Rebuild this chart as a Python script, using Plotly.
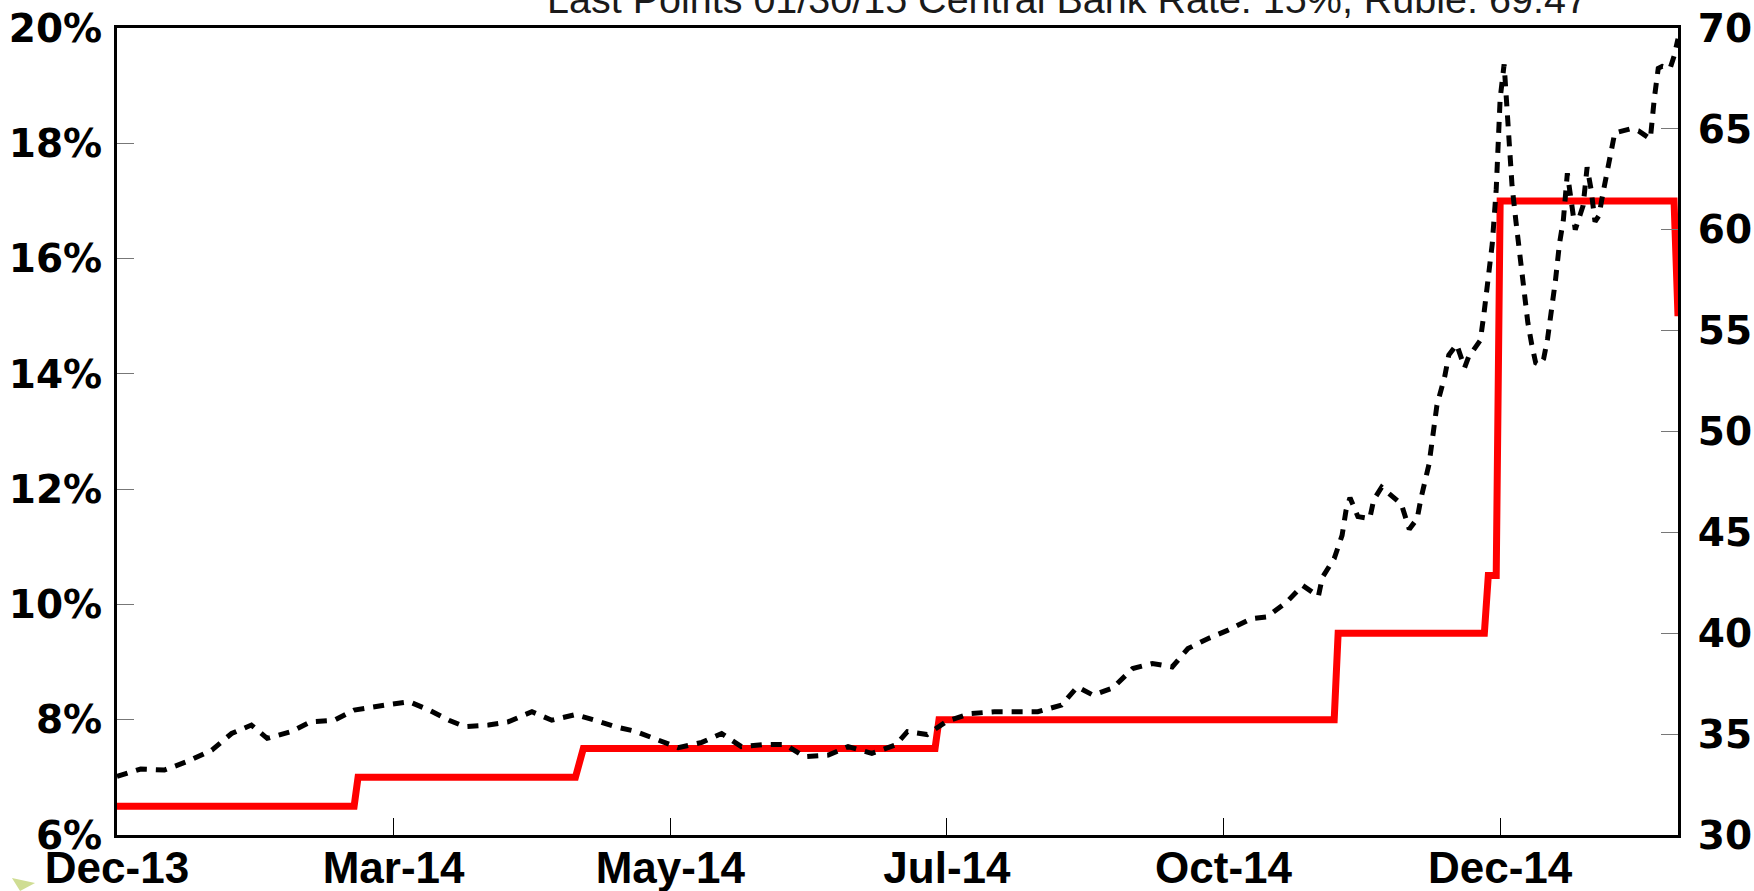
import plotly.graph_objects as go

# ---- data ----
TITLE_TEXT = "Last Points 01/30/15 Central Bank Rate: 15%, Ruble: 69.47"

TICK_DATES = ["2013-12-31", "2014-03-11", "2014-05-20", "2014-07-29", "2014-10-07", "2014-12-16"]
TICK_LABELS = ["Dec-13", "Mar-14", "May-14", "Jul-14", "Oct-14", "Dec-14"]

RATE_TICKS = [6, 8, 10, 12, 14, 16, 18, 20]
RATE_TICK_LABELS = ["6%", "8%", "10%", "12%", "14%", "16%", "18%", "20%"]
RUBLE_TICKS = [30, 35, 40, 45, 50, 55, 60, 65, 70]

RATE_DATES = ["2013-12-31", "2014-03-01", "2014-03-02", "2014-04-26", "2014-04-28",
              "2014-07-26", "2014-07-27", "2014-11-04", "2014-11-05", "2014-12-12",
              "2014-12-13", "2014-12-15", "2014-12-16", "2015-01-29", "2015-01-30"]
RATE_VALUES = [6.5, 6.5, 7.0, 7.0, 7.5, 7.5, 8.0, 8.0, 9.5, 9.5, 10.5, 10.5, 17.0, 17.0, 15.0]

RUBLE_DATES = [
    "2013-12-31", "2014-01-06", "2014-01-12", "2014-01-18", "2014-01-24", "2014-01-29",
    "2014-02-03", "2014-02-07", "2014-02-13", "2014-02-18", "2014-02-24", "2014-03-01",
    "2014-03-09", "2014-03-15", "2014-03-20", "2014-03-25", "2014-03-29", "2014-04-04",
    "2014-04-09", "2014-04-15", "2014-04-20", "2014-04-26", "2014-05-01", "2014-05-06",
    "2014-05-11", "2014-05-16", "2014-05-22", "2014-05-28", "2014-06-02", "2014-06-07",
    "2014-06-13", "2014-06-18", "2014-06-23", "2014-06-29", "2014-07-04", "2014-07-10",
    "2014-07-16", "2014-07-19", "2014-07-24", "2014-07-29", "2014-08-04", "2014-08-10",
    "2014-08-15", "2014-08-21", "2014-08-27", "2014-08-31", "2014-09-04", "2014-09-09",
    "2014-09-14", "2014-09-19", "2014-09-24", "2014-09-28", "2014-10-03", "2014-10-08",
    "2014-10-14", "2014-10-18", "2014-10-23", "2014-10-27", "2014-10-31", "2014-11-01",
    "2014-11-04", "2014-11-06", "2014-11-07", "2014-11-08", "2014-11-10", "2014-11-13",
    "2014-11-14", "2014-11-16", "2014-11-21", "2014-11-23", "2014-11-25", "2014-11-26",
    "2014-11-28", "2014-11-29", "2014-11-30", "2014-12-02", "2014-12-03", "2014-12-05",
    "2014-12-07", "2014-12-08", "2014-12-11", "2014-12-12", "2014-12-13", "2014-12-14",
    "2014-12-15", "2014-12-16", "2014-12-17", "2014-12-18", "2014-12-19", "2014-12-20",
    "2014-12-21", "2014-12-22", "2014-12-23", "2014-12-24", "2014-12-25", "2014-12-26",
    "2014-12-27", "2014-12-28", "2014-12-29", "2014-12-30", "2014-12-31", "2015-01-01",
    "2015-01-02", "2015-01-03", "2015-01-04", "2015-01-05", "2015-01-06", "2015-01-07",
    "2015-01-08", "2015-01-09", "2015-01-10", "2015-01-11", "2015-01-12", "2015-01-13",
    "2015-01-14", "2015-01-16", "2015-01-18", "2015-01-20", "2015-01-23", "2015-01-24",
    "2015-01-25", "2015-01-26", "2015-01-28", "2015-01-29", "2015-01-30",
]
RUBLE_VALUES = [
    32.90, 33.27, 33.22, 33.66, 34.21, 35.03,
    35.45, 34.79, 35.12, 35.61, 35.69, 36.19,
    36.44, 36.60, 36.19, 35.69, 35.37, 35.45,
    35.61, 36.11, 35.69, 35.97, 35.69, 35.37,
    35.15, 34.75, 34.33, 34.59, 35.03, 34.38,
    34.49, 34.49, 33.88, 33.96, 34.38, 34.05,
    34.46, 35.12, 34.98, 35.64, 36.02, 36.11,
    36.11, 36.11, 36.44, 37.34, 36.93, 37.29,
    38.25, 38.50, 38.33, 39.24, 39.73, 40.14,
    40.72, 40.81, 41.55, 42.37, 41.83, 42.77,
    43.70, 44.85, 46.09, 46.72, 45.78, 45.68,
    46.61, 47.24, 46.40, 45.16, 45.68, 46.72,
    48.38, 49.84, 51.30, 52.75, 53.79, 54.31,
    53.17, 53.69, 54.53, 56.00, 57.60, 59.30,
    62.00, 66.50, 68.20, 64.70, 62.20, 60.40,
    58.60, 57.10, 55.40, 54.30, 53.40, 53.30,
    53.60, 54.60, 56.00, 57.50, 59.30, 60.50,
    62.80, 61.50, 60.00, 60.60, 61.20, 63.10,
    62.00, 60.40, 60.70, 61.80, 62.80, 64.00,
    64.80, 64.90, 65.00, 64.90, 64.50, 66.50,
    68.00, 68.10, 68.00, 68.60, 69.47,
]

X_RANGE = ["2013-12-31", "2015-01-30"]

# ---- figure ----
fig = go.Figure()
fig.add_trace(go.Scatter(
    x=RATE_DATES, y=RATE_VALUES, mode="lines", yaxis="y",
    line=dict(color="#ff0000", width=7), showlegend=False, hoverinfo="skip"))
fig.add_trace(go.Scatter(
    x=RUBLE_DATES, y=RUBLE_VALUES, mode="lines", yaxis="y2",
    line=dict(color="black", width=5, dash="11px,9px"), showlegend=False, hoverinfo="skip"))

ytick_font = dict(family="DejaVu Sans", size=39, color="black", weight="bold")

fig.update_layout(
    width=1754, height=891, autosize=False,
    margin=dict(l=117, r=76, t=28, b=56, pad=0),
    paper_bgcolor="white", plot_bgcolor="white",
    xaxis=dict(
        type="date", range=X_RANGE, tickvals=TICK_DATES, ticktext=TICK_LABELS,
        ticks="inside", ticklen=17, tickwidth=1, tickcolor="black",
        showline=True, linecolor="black", linewidth=3, mirror=True,
        showgrid=False, zeroline=False, automargin=False,
        tickfont=dict(family="Liberation Sans, Arial", size=44, color="black", weight="bold"),
        ticklabelstandoff=-8,
    ),
    yaxis=dict(
        range=[6, 20], tickvals=RATE_TICKS, ticktext=RATE_TICK_LABELS,
        ticks="inside", ticklen=17, tickwidth=1, tickcolor="#777777",
        showline=True, linecolor="black", linewidth=3, automargin=False,
        showgrid=False, zeroline=False, tickfont=ytick_font, ticklabelstandoff=4,
    ),
    yaxis2=dict(
        range=[30, 70], tickvals=RUBLE_TICKS, overlaying="y", side="right",
        ticks="inside", ticklen=17, tickwidth=1, tickcolor="#777777",
        showline=True, linecolor="black", linewidth=3, automargin=False,
        showgrid=False, zeroline=False, tickfont=ytick_font, ticklabelstandoff=9,
    ),
    annotations=[dict(
        text=TITLE_TEXT, xref="paper", yref="paper", x=0.609, y=1.0062,
        xanchor="center", yanchor="bottom", showarrow=False,
        font=dict(family="Liberation Sans, Arial", size=39.5, color="#1a1a1a"),
    )],
    shapes=[dict(
        type="path", xref="paper", yref="paper",
        path="M -0.0673,-0.0533 L -0.0525,-0.0595 L -0.0621,-0.0694 Z",
        fillcolor="#cfdd93", line=dict(width=0), layer="above",
    )],
)

fig.write_html("out.html", config={"displayModeBar": False},
               post_script="document.body.style.margin='0';")
